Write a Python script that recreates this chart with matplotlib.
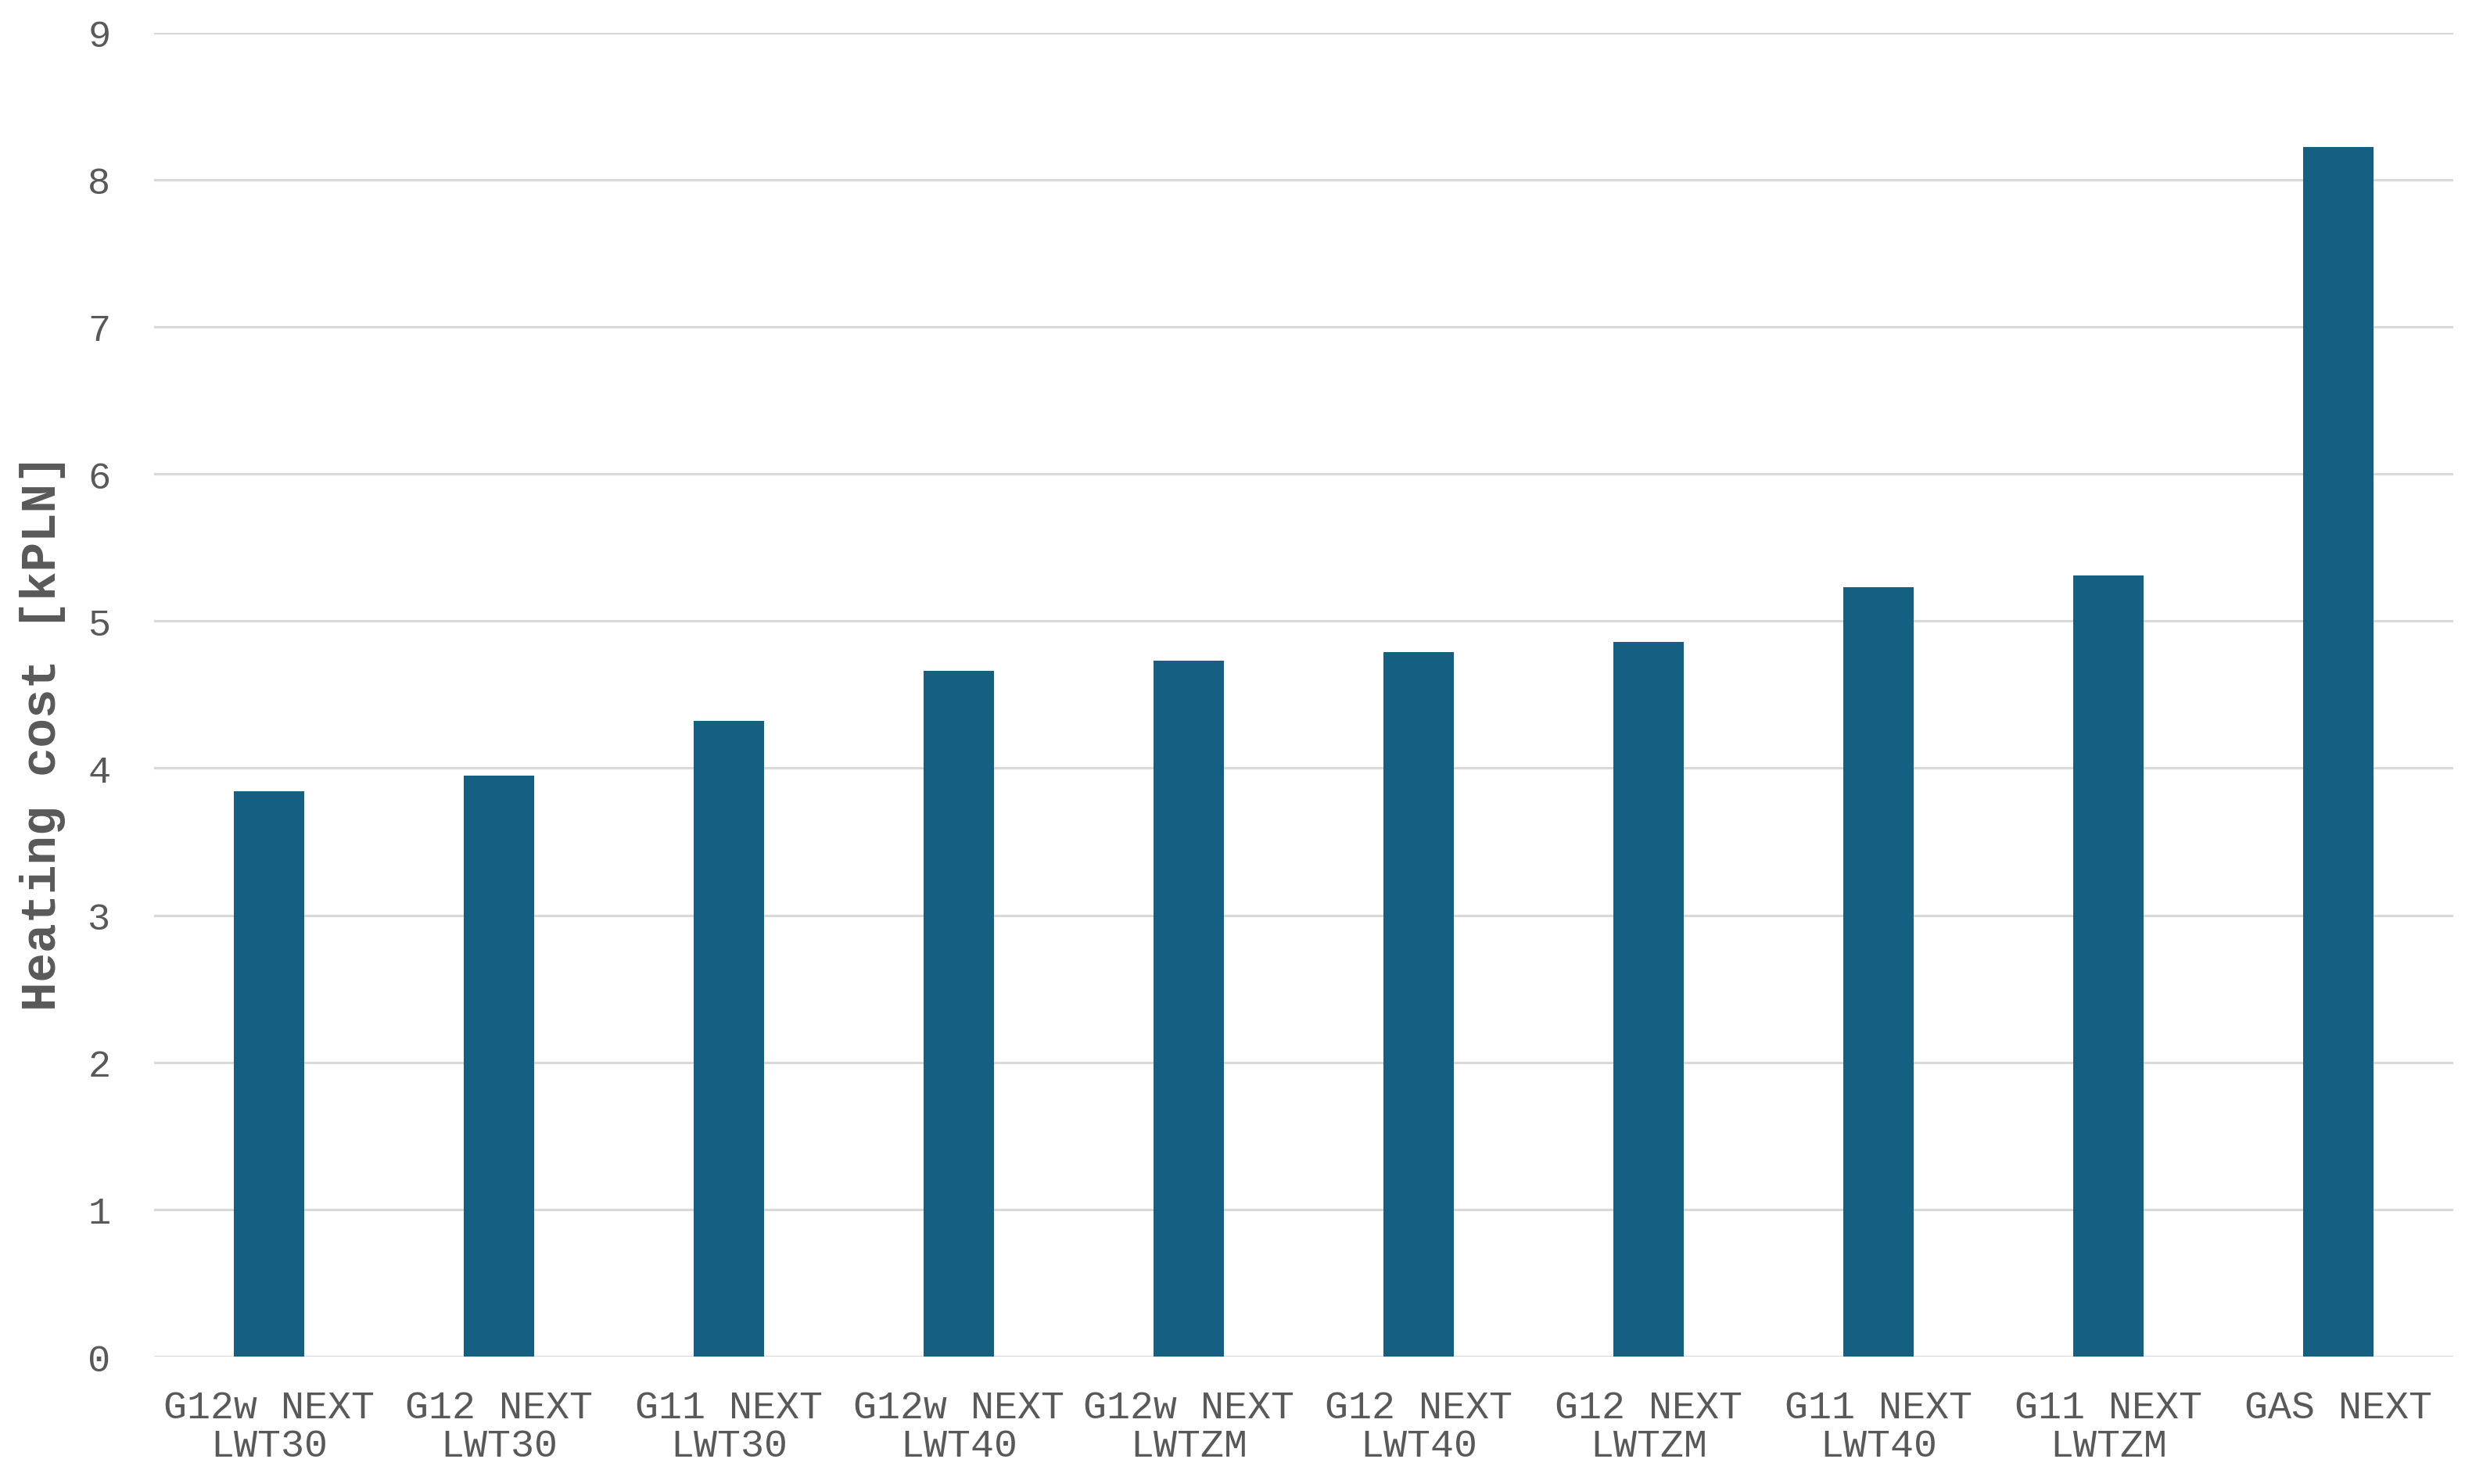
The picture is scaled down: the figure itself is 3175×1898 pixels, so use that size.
import matplotlib
matplotlib.use("Agg")
import matplotlib.pyplot as plt
import numpy as np

matplotlib.rcParams["font.family"] = ["Liberation Mono", "DejaVu Sans Mono"]

# data
labels = ["G12w NEXT\nLWT30", "G12 NEXT\nLWT30", "G11 NEXT\nLWT30", "G12w NEXT\nLWT40",
          "G12w NEXT\nLWTZM", "G12 NEXT\nLWT40", "G12 NEXT\nLWTZM", "G11 NEXT\nLWT40",
          "G11 NEXT\nLWTZM", "GAS NEXT"]
cost = [3.84, 3.95, 4.32, 4.66, 4.73, 4.79, 4.86, 5.23, 5.31, 8.22]
yticks = list(range(0, 10))

BAR = "#156082"
GRID = "#D9D9D9"
TXT = "#595959"

fig = plt.figure(figsize=(31.75, 18.99), dpi=100)
ax = fig.add_axes([0.062, 0.0858, 0.926, 0.8918])

x = np.arange(len(labels))
ax.bar(x, cost, width=0.307, color=BAR, zorder=3)

ax.set_xlim(-0.5, len(labels) - 0.5)
ax.set_ylim(0, 9)
ax.set_yticks(yticks)
ax.set_xticks(x)
ax.set_xticklabels(labels, fontsize=36, color=TXT, linespacing=1.1)
ax.tick_params(axis="y", labelsize=35, labelcolor=TXT, length=0, pad=40)
ax.tick_params(axis="x", length=0, pad=30)

ax.grid(axis="y", color=GRID, lw=2.3, zorder=0)
for s in ax.spines.values():
    s.set_visible(False)

ax.set_ylabel("Heating cost [kPLN]", fontsize=45, fontweight="bold", color=TXT, va="center")
ax.yaxis.set_label_coords(-0.0485, 0.472)

fig.savefig("out.png", dpi=100, facecolor="white")
